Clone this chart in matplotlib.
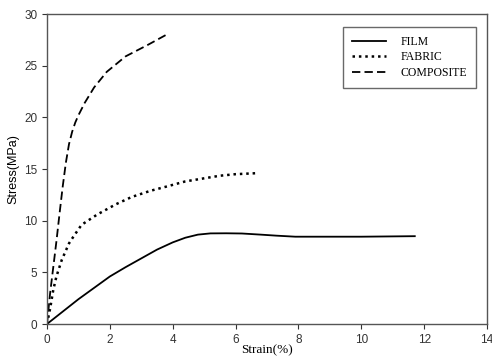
import matplotlib.pyplot as plt

# stress-strain data
film_strain = [0, 0.5, 1, 1.5, 2, 2.5, 3, 3.5, 4, 4.4, 4.8, 5.2, 5.7, 6.2, 6.8, 7.3, 7.9, 10, 11.7]
film_stress = [0, 1.2, 2.4, 3.5, 4.6, 5.5, 6.35, 7.2, 7.9, 8.35, 8.65, 8.77, 8.78, 8.76, 8.65, 8.55, 8.45, 8.45, 8.5]

fabric_strain = [0, 0.1, 0.2, 0.3, 0.47, 0.7, 0.85, 1.1, 1.6, 2.2, 2.7, 3.3, 3.8, 4.4, 5.0, 5.5, 6.0, 6.7]
fabric_stress = [0, 1.5, 3.3, 4.6, 6.2, 7.8, 8.5, 9.6, 10.6, 11.6, 12.3, 12.9, 13.3, 13.8, 14.1, 14.35, 14.5, 14.6]

comp_strain = [0, 0.1, 0.2, 0.3, 0.4, 0.5, 0.6, 0.7, 0.8, 0.9, 1.0, 1.2, 1.5, 1.9, 2.5, 3.2, 3.8]
comp_stress = [0, 3, 5.5, 8, 10.7, 13.3, 15.6, 17.4, 18.6, 19.5, 20.2, 21.4, 22.9, 24.4, 25.9, 27, 28]

plt.rcParams['lines.scale_dashes'] = False

fig = plt.figure(figsize=(4.92, 3.63), dpi=100)
ax = fig.add_axes([0.0955, 0.1074, 0.8945, 0.854])

ax.plot(film_strain, film_stress, color='black', lw=1.3, label='FILM')
ax.plot(fabric_strain, fabric_stress, color='black', lw=1.8, linestyle=(0, (1.8, 2.8)), label='FABRIC')
ax.plot(comp_strain, comp_stress, color='black', lw=1.3, linestyle=(0, (6, 3)), label='COMPOSITE')

ax.set_xlim(0, 14)
ax.set_ylim(0, 30)
ax.set_xticks(range(0, 15, 2))
ax.set_yticks(range(0, 31, 5))

for s in ax.spines.values():
    s.set_color('#555555')
    s.set_linewidth(1.0)

ax.tick_params(direction='out', length=3.5, width=0.8, colors='#333333', labelsize=8.5)
for lab in ax.get_xticklabels() + ax.get_yticklabels():
    lab.set_family('Liberation Sans')

ax.set_xlabel('Strain(%)', family='Liberation Serif', fontsize=9.5, labelpad=-1)
ax.set_ylabel('Stress(MPa)', family='Liberation Sans', fontsize=9, labelpad=3)

leg = ax.legend(loc='upper right', bbox_to_anchor=(0.975, 0.958), prop={'family': 'Liberation Serif', 'size': 8.5},
                frameon=True, fancybox=False, edgecolor='#444444', handlelength=2.9,
                handletextpad=1.2, borderpad=0.75, labelspacing=0.3, borderaxespad=0)
leg.get_frame().set_linewidth(1.0)

fig.savefig('out.png', dpi=100)
